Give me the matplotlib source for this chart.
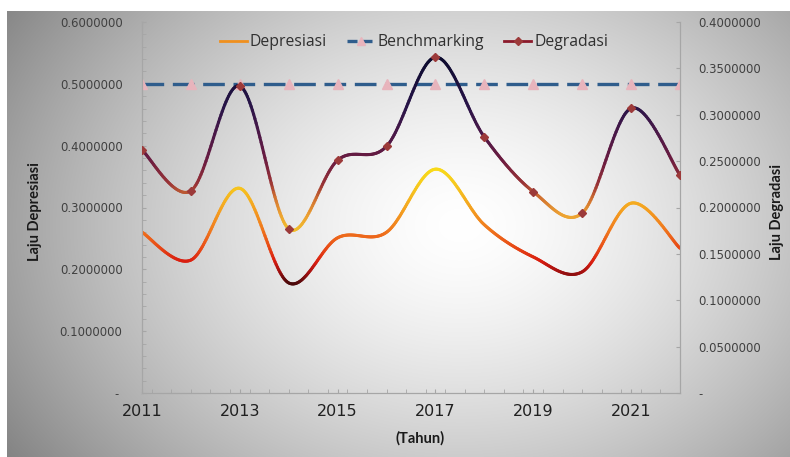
import numpy as np
import matplotlib
matplotlib.use("Agg")
import matplotlib.pyplot as plt
from matplotlib.collections import LineCollection
from matplotlib.colors import LinearSegmentedColormap
from matplotlib.lines import Line2D
from matplotlib.ticker import MultipleLocator, FixedLocator, FuncFormatter

years = np.arange(2011, 2023)
depresiasi = [0.260, 0.215, 0.331, 0.178, 0.251, 0.260, 0.362, 0.272, 0.220, 0.196, 0.307, 0.234]
degradasi = [0.262, 0.218, 0.331, 0.177, 0.251, 0.266, 0.362, 0.276, 0.217, 0.194, 0.307, 0.235]
benchmarking = [0.5] * 12

xtick_years = [2011, 2013, 2015, 2017, 2019, 2021]
left_ticks = [0.0, 0.1, 0.2, 0.3, 0.4, 0.5, 0.6]
right_ticks = [0.0, 0.05, 0.1, 0.15, 0.2, 0.25, 0.3, 0.35, 0.4]

# colour stops (value, colour) for the gradient lines
dep_stops = [(0.168, "#2a0606"), (0.182, "#600a0c"), (0.195, "#a01010"),
             (0.212, "#d81c10"), (0.235, "#e84a16"), (0.265, "#f07a1e"),
             (0.300, "#f4a420"), (0.335, "#f6c81e"), (0.365, "#f8dc18")]
deg_stops = [(0.172, "#f2c42a"), (0.192, "#eca032"), (0.210, "#d07030"),
             (0.225, "#9a3436"), (0.250, "#6c1c40"), (0.280, "#4a1848"),
             (0.310, "#281448"), (0.365, "#0a0a2c")]


def stops_cmap(name, stops):
    v0, v1 = stops[0][0], stops[-1][0]
    cm = LinearSegmentedColormap.from_list(
        name, [((v - v0) / (v1 - v0), c) for v, c in stops])
    return cm, v0, v1


def smooth(x, y, n=40):
    # Excel-style smoothed line (Catmull-Rom through bezier)
    x = np.asarray(x, float)
    y = np.asarray(y, float)
    P = np.column_stack([x, y])
    Pe = np.vstack([P[0], P, P[-1]])
    out = []
    t = np.linspace(0, 1, n)[:, None]
    for i in range(len(P) - 1):
        p0, p3 = Pe[i + 1], Pe[i + 2]
        c1 = p0 + (Pe[i + 2] - Pe[i]) / 6.
        c2 = p3 - (Pe[i + 3] - Pe[i + 1]) / 6.
        seg = (1-t)**3*p0 + 3*(1-t)**2*t*c1 + 3*(1-t)*t**2*c2 + t**3*p3
        out.append(seg if i == 0 else seg[1:])
    out = np.vstack(out)
    return out[:, 0], out[:, 1]


def grad_line(ax, x, y, stops, lw=2.2, zo=3):
    cm, v0, v1 = stops_cmap("g", stops)
    xs, ys = smooth(x, y)
    pts = np.column_stack([xs, ys]).reshape(-1, 1, 2)
    segs = np.concatenate([pts[:-1], pts[1:]], axis=1)
    mid = (ys[:-1] + ys[1:]) / 2.
    cols = cm(np.clip((mid - v0) / (v1 - v0), 0, 1))
    lc = LineCollection(segs, colors=cols, linewidths=lw,
                        capstyle='round', joinstyle='round', zorder=zo)
    ax.add_collection(lc)
    return lc


fig = plt.figure(figsize=(7.9, 4.57), dpi=100)
fig.patch.set_facecolor("white")

# background gradient panel
bg = fig.add_axes([7/790, 0, 783/790, 446/457], zorder=-10)
W, H = 783, 446
gx, gy = np.meshgrid(np.arange(W), np.arange(H))
dx = (gx + 7 - 460) / 430.
dy = (gy + 11 - 225) / 330.
r = np.sqrt(dx**2 + dy**2)
g = np.clip(1 - 0.34 * r**1.5, 0, 1)
bg.imshow(np.dstack([g, g, g]), aspect='auto', interpolation='bilinear')
bg.axis('off')

ax1 = fig.add_axes([142/790, 64/457, 538/790, 371/457])
ax1.patch.set_alpha(0)
ax2 = ax1.twinx()
ax2.patch.set_alpha(0)

ax1.set_xlim(2011, 2022)
ax1.set_ylim(0, 0.6)
ax2.set_ylim(0, 0.4)

# series
ax1.plot(years, benchmarking, color="#2f5d8c", lw=2.4, dashes=(6.5, 2.6),
         marker='^', markersize=7, markerfacecolor="#e8b4bc",
         markeredgecolor="#e8b4bc", zorder=2)
grad_line(ax1, years, depresiasi, dep_stops)
grad_line(ax2, years, degradasi, deg_stops)
ax2.plot(years, degradasi, ls='none', marker='D', markersize=4,
         color="#9c3a3a", zorder=5)

# axes style
spine_c = "#a6a6a6"
for ax in (ax1, ax2):
    ax.spines['top'].set_visible(False)
    for s in ('left', 'right', 'bottom'):
        ax.spines[s].set_color(spine_c)

ax1.xaxis.set_major_locator(FixedLocator(xtick_years))
ax1.xaxis.set_minor_locator(MultipleLocator(0.4))
ax1.set_xticklabels([str(y) for y in xtick_years], fontsize=11.5, color="#202020")
ax1.tick_params(axis='x', which='both', direction='in', length=3, color=spine_c, pad=8)

fmt_l = FuncFormatter(lambda v, p: "- " if abs(v) < 1e-9 else "%.7f" % v)
fmt_r = FuncFormatter(lambda v, p: "-" if abs(v) < 1e-9 else "%.7f" % v)
ax1.yaxis.set_major_locator(FixedLocator(left_ticks))
ax1.yaxis.set_minor_locator(MultipleLocator(0.02))
ax1.yaxis.set_major_formatter(fmt_l)
ax1.tick_params(axis='y', which='both', direction='in', length=3, color=spine_c,
                labelsize=8.4, labelcolor="#404040", pad=14)
ax2.yaxis.set_major_locator(FixedLocator(right_ticks))
ax2.yaxis.set_major_formatter(fmt_r)
ax2.tick_params(axis='y', which='both', direction='in', length=3, color=spine_c,
                labelsize=8.4, labelcolor="#404040", pad=13)

lab_font = dict(family=["Lato", "DejaVu Sans"], fontweight='bold', fontsize=10.5,
                color="#1a1a1a")
fig.text(35/790, 1 - 212/457, "Laju Depresiasi", rotation=90, ha='center', va='center', **lab_font)
fig.text(777/790, 1 - 212/457, "Laju Degradasi", rotation=90, ha='center', va='center', **lab_font)
fig.text(420/790, 1 - 438/457, "(Tahun)", ha='center', va='center', **lab_font)

handles = [
    Line2D([], [], color="#f0901e", lw=2),
    Line2D([], [], color="#2f5d8c", lw=2.4, dashes=(3, 1.5), marker='^', markersize=6,
           markerfacecolor="#e8b4bc", markeredgecolor="#e8b4bc"),
    Line2D([], [], color="#8b1a2b", lw=2, marker='D', markersize=4,
           markerfacecolor="#9c3a3a", markeredgecolor="#9c3a3a"),
]
leg = ax2.legend(handles, ["Depresiasi", "Benchmarking", "Degradasi"], ncol=3,
                 loc='center', bbox_to_anchor=(414/790, 1 - 42/457),
                 bbox_transform=fig.transFigure, frameon=False,
                 prop={'family': ["Open Sans", "DejaVu Sans"], 'size': 11.3},
                 handlelength=1.7, handletextpad=0.2, columnspacing=1.3)
for t in leg.get_texts():
    t.set_color("#303030")

fig.savefig("out.png", dpi=100, facecolor="white")
